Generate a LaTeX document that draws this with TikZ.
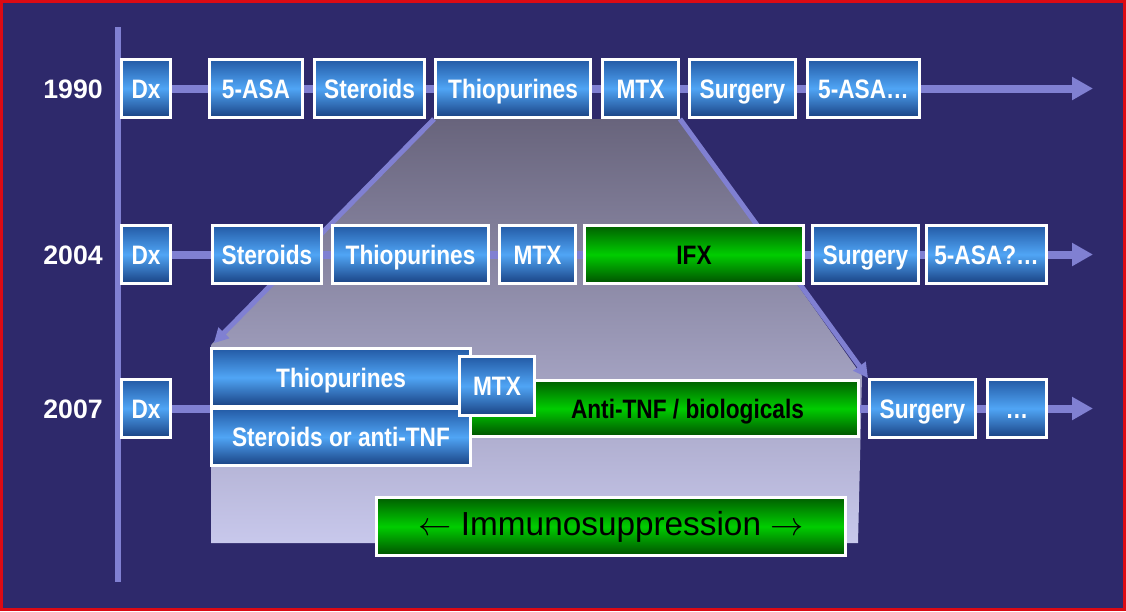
\documentclass[tikz,border=0pt]{standalone}
\usepackage{fontspec}
\setmainfont{Liberation Sans}
\newfontfamily\narrowfont[FakeStretch=0.85]{Liberation Sans}
\usetikzlibrary{arrows.meta,positioning,backgrounds}
\definecolor{navy}{RGB}{46,41,107}
\definecolor{framered}{RGB}{220,10,20}
\definecolor{lav}{RGB}{128,128,210}
\definecolor{boxtop}{RGB}{35,90,165}
\definecolor{boxmid}{RGB}{80,165,245}
\definecolor{boxbot}{RGB}{25,65,130}
\definecolor{grtop}{RGB}{0,95,0}
\definecolor{grmid}{RGB}{0,205,0}
\definecolor{grbot}{RGB}{0,80,0}
\definecolor{fadetop}{RGB}{104,100,124}
\definecolor{fadebot}{RGB}{200,200,236}
\tikzset{
 box/.style={draw=white,line width=2.25pt,minimum height=43.5pt,inner sep=1pt,
             text height=16.3pt,text depth=2pt,
             top color=boxtop,bottom color=boxbot,middle color=boxmid,text=white,
             font=\narrowfont\bfseries\fontsize{20}{22}\selectfont},
 greenbox/.style={box,top color=grtop,bottom color=grbot,middle color=grmid,text=black},
 year/.style={text=white,inner sep=0pt,text height=16.3pt,text depth=2pt,
              font=\bfseries\fontsize{20}{22}\selectfont},
 rowline/.style={lav,line width=6pt,-{Triangle[length=15.75pt,width=16.5pt]}},
 sidearrow/.style={lav,line width=3.75pt,-{Triangle[length=11pt,width=11pt]}},
}

\begin{document}
\begin{tikzpicture}[x=0.75pt,y=-0.75pt]
\useasboundingbox (0,0) rectangle (1126,611);
% 1990
\node[box,minimum width=36.75pt] (d90) at (146,88.5) {Dx};
\node[box,minimum width=69.75pt,right=27pt of d90] (asa90) {5-ASA};
\node[box,minimum width=82.5pt,right=6.75pt of asa90] (ster90) {Steroids};
\node[box,minimum width=116.25pt,right=6pt of ster90] (thio90) {Thiopurines};
\node[box,minimum width=57pt,right=6.75pt of thio90] (mtx90) {MTX};
\node[box,minimum width=79.5pt,right=6pt of mtx90] (surg90) {Surgery};
\node[box,minimum width=84pt,right=6.75pt of surg90] (asaa90) {5-ASA…};
\node[year,left=12.75pt of d90] (y90) {1990};
% 2004
\node[box,minimum width=36.75pt] (d04) at (146,254.5) {Dx};
\node[box,minimum width=81.75pt,right=29.25pt of d04] (ster04) {Steroids};
\node[box,minimum width=117pt,right=6pt of ster04] (thio04) {Thiopurines};
\node[box,minimum width=57pt,right=6pt of thio04] (mtx04) {MTX};
\node[greenbox,minimum width=164.25pt,right=4.5pt of mtx04] (ifx04) {IFX};
\node[box,minimum width=79.5pt,right=4.5pt of ifx04] (surg04) {Surgery};
\node[box,minimum width=90pt,right=3.75pt of surg04] (asa04) {5-ASA?…};
\node[year,left=12.75pt of d04] (y04) {2004};
% 2007
\node[box,minimum width=36.75pt] (d07) at (146,408.5) {Dx};
\node[greenbox,minimum width=293.25pt,minimum height=42pt] (anti07) at (663,408.5) {\hspace*{36.75pt}Anti-TNF / biologicals};
\node[box,minimum width=194.25pt] (thio07) at (341,377.5) {Thiopurines};
\node[box,minimum width=194.25pt,minimum height=42.75pt,below=-0.75pt of thio07] (ster07) {Steroids or anti-TNF};
\node[box,minimum width=56.25pt,minimum height=44.25pt] (mtx07) at (497,386) {MTX};
\node[box,minimum width=79.5pt,right=6pt of anti07] (surg07) {Surgery};
\node[box,minimum width=44.25pt,right=6.75pt of surg07] (dots07) {…};
\node[year,left=12.75pt of d07] (y07) {2007};
\node[greenbox,minimum width=351.75pt,text height=18pt,text depth=5pt,
      font=\fontsize{25}{28}\selectfont] (immuno) at (611,526.5) {$\leftarrow$ Immunosuppression $\rightarrow$};

\begin{pgfonlayer}{background}
\fill[navy] (0,0) rectangle (1126,611);
\draw[framered,line width=2.25pt] (1.5,1.5) rectangle (1124.5,609.5);
\shade[top color=fadetop,bottom color=fadebot] (thio90.south west) -- (mtx90.south east)
  -- (862,376) -- (858,543) -- (211,543) -- (211,345) -- cycle;
\draw[lav,line width=4.5pt] (118,27) -- (118,582);
\foreach \r/\y in {90/88.5,04/254.5,07/408.5}{
  \coordinate (end\r) at (1093,\y);
  \draw[rowline] (d\r.east) -- (end\r);
}
\draw[sidearrow,shorten >=4pt] (thio90.south west) -- (thio07.north west);
\draw[sidearrow] (mtx90.south east) -- (surg07.north west);
\end{pgfonlayer}
\end{tikzpicture}
\end{document}
